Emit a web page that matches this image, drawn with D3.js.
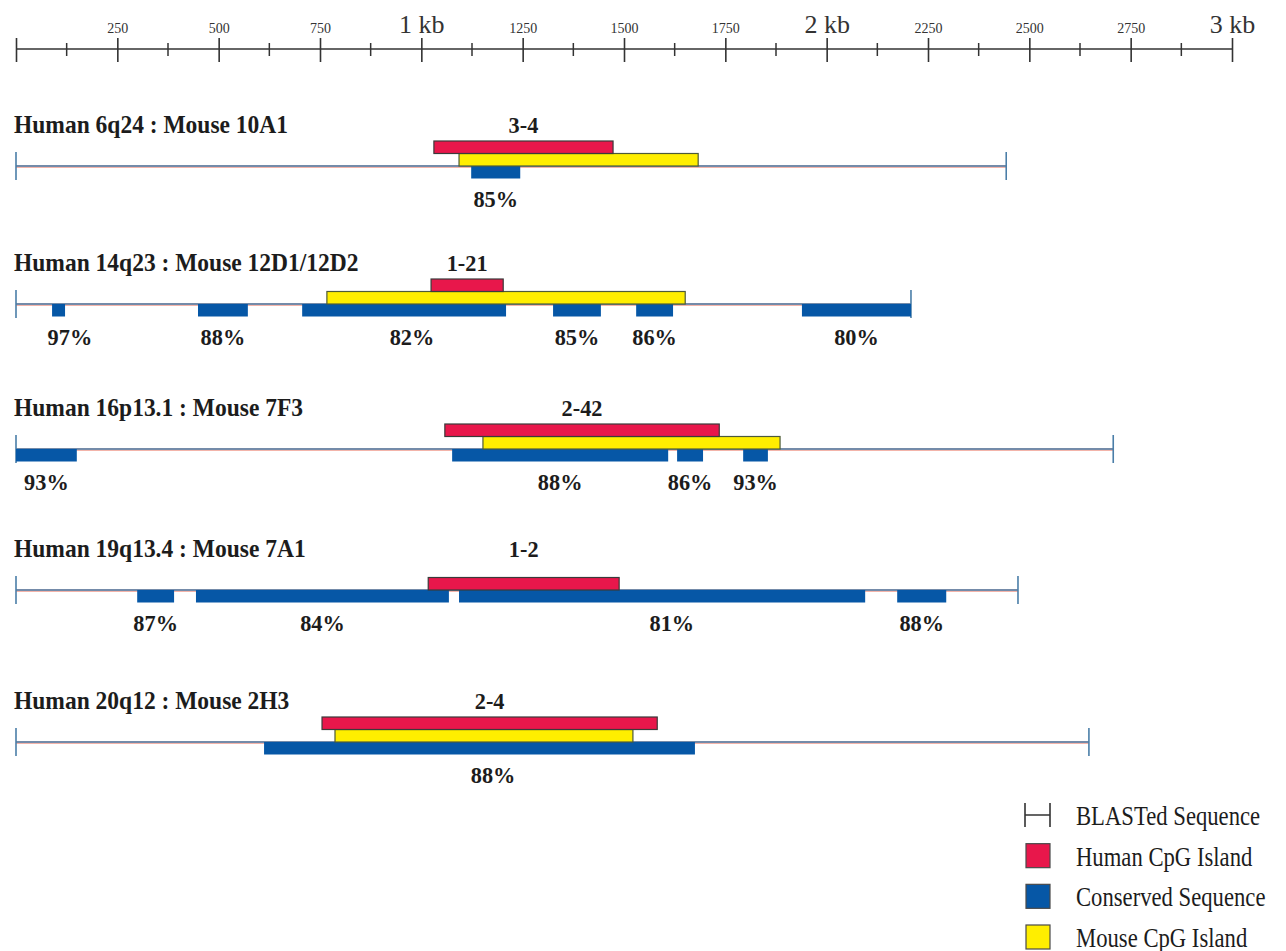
<!DOCTYPE html>
<html>
<head>
<meta charset="utf-8">
<script src="https://cdn.jsdelivr.net/npm/d3@7"></script>
<style>
  body { margin: 0; background: #fff; }
  svg { display: block; }
  .serif { font-family: "Liberation Serif", "DejaVu Serif", serif; }
</style>
</head>
<body>
<svg id="chart" width="1286" height="951"></svg>
<script>
// Scale bar ticks (bp)
const majorTicks = [0, 250, 500, 750, 1000, 1250, 1500, 1750, 2000, 2250, 2500, 2750, 3000];
const minorTicks = [125, 375, 625, 875, 1125, 1375, 1625, 1875, 2125, 2375, 2625, 2875];
const tickNames = {1000: "1 kb", 2000: "2 kb", 3000: "3 kb"};

// One entry per alignment row
const rowTitles = [
  "Human 6q24 : Mouse 10A1",
  "Human 14q23 : Mouse 12D1/12D2",
  "Human 16p13.1 : Mouse 7F3",
  "Human 19q13.4 : Mouse 7A1",
  "Human 20q12 : Mouse 2H3",
];
const clusterNames = ["3-4", "1-21", "2-42", "1-2", "2-4"];
const blastLength = [2443, 2208, 2707, 2472, 2647];
const humanCpG = [[1031, 1473], [1024, 1202], [1058, 1735], [1017, 1488], [755, 1582]];
const mouseCpG = [[1093, 1683], [767, 1651], [1152, 1885], null, [787, 1522]];
// [start, end, % identity, optional label position]
const conserved = [
  [[1123, 1244, 85]],
  [[89, 121, 97, 133], [449, 572, 88], [706, 1209, 82, 977], [1325, 1443, 85], [1530, 1621, 86], [1939, 2208, 80]],
  [[0, 150, 93], [1076, 1609, 88], [1631, 1695, 86], [1794, 1855, 93]],
  [[299, 390, 87], [444, 1068, 84], [1093, 2095, 81, 1618], [2174, 2295, 88]],
  [[612, 1675, 88, 1177]],
];

const legendItems = ["BLASTed Sequence", "Human CpG Island", "Conserved Sequence", "Mouse CpG Island"];

const RED = "#e8174b", YELLOW = "#ffee00", BLUE = "#0657a6";

const svg = d3.select("#chart");
const x = d3.scaleLinear().domain([0, 3000]).range([16, 1232]);

// squashed serif text, the source figure's type is a bit narrow
function label(g, txt, px, py, size, bold, anchor, sx) {
  return g.append("text")
    .attr("class", "serif")
    .attr("transform", `translate(${px},${py}) scale(${sx || 0.93},1)`)
    .attr("text-anchor", anchor || "start")
    .attr("font-size", size)
    .attr("font-weight", bold ? "bold" : "normal")
    .attr("fill", "#1c1c1c")
    .text(txt);
}

/**
 * Scale bar
 */
const axisY = 49;
const axisG = svg.append("g").attr("transform", `translate(0,${axisY})`);
axisG.append("line")
  .attr("x1", x(0)).attr("x2", x(3000))
  .attr("stroke", "#333").attr("stroke-width", 1.6);

const ax = d3.axisTop(x).tickValues(majorTicks).tickSize(11)
  .tickFormat((d) => (d === 0 ? "" : tickNames[d] || d));
const axG = axisG.append("g").call(ax);
axG.select(".domain").remove();
axG.selectAll(".tick line").attr("y1", 13).attr("y2", -11).attr("stroke", "#333").attr("stroke-width", 1.6);
axG.selectAll(".tick text")
  .attr("class", "serif")
  .attr("y", -16).attr("dy", 0)
  .attr("fill", "#333")
  .attr("font-size", (d) => (tickNames[d] ? 26 : 14));

axisG.selectAll("line.minor")
  .data(minorTicks)
  .enter().append("line")
  .attr("class", "minor")
  .attr("x1", (d) => x(d)).attr("x2", (d) => x(d))
  .attr("y1", -6).attr("y2", 7)
  .attr("stroke", "#333").attr("stroke-width", 1.5);

/**
 * Alignment rows
 */
// vertical place of each row's sequence line (layout only)
const rowY = [166, 304, 449, 590, 742];
const barH = 12.5;

rowTitles.forEach((title, i) => {
  const y0 = rowY[i];
  const g = svg.append("g");

  label(g, title, 14, y0 - 33, 25, true, "start", 0.94);

  // BLASTed sequence line with end ticks
  g.append("line").attr("x1", x(0)).attr("x2", x(blastLength[i]))
    .attr("y1", y0 + 0.5).attr("y2", y0 + 0.5)
    .attr("stroke", "#f3b4aa").attr("stroke-width", 3);
  g.append("line").attr("x1", x(0)).attr("x2", x(blastLength[i]))
    .attr("y1", y0).attr("y2", y0)
    .attr("stroke", "#4a7ea8").attr("stroke-width", 1.3);
  [0, blastLength[i]].forEach((d) => {
    g.append("line").attr("x1", x(d)).attr("x2", x(d))
      .attr("y1", y0 - 14).attr("y2", y0 + 14)
      .attr("stroke", "#4a7ea8").attr("stroke-width", 1.6);
  });

  // conserved blocks below the line
  g.selectAll("rect.cons")
    .data(conserved[i])
    .enter().append("rect")
    .attr("class", "cons")
    .attr("x", (d) => x(d[0]))
    .attr("width", (d) => x(d[1]) - x(d[0]))
    .attr("y", y0)
    .attr("height", barH)
    .attr("fill", BLUE);

  conserved[i].forEach((d) => {
    const at = d.length > 3 ? d[3] : (d[0] + d[1]) / 2;
    label(g, d[2] + "%", x(at), y0 + 41, 24, true, "middle");
  });

  // mouse CpG sits on the line, human CpG on top of it
  let top = y0;
  if (mouseCpG[i]) {
    const m = mouseCpG[i];
    g.append("rect")
      .attr("x", x(m[0])).attr("width", x(m[1]) - x(m[0]))
      .attr("y", top - barH).attr("height", barH)
      .attr("fill", YELLOW).attr("stroke", "#4d5a3a").attr("stroke-width", 1.2);
    top -= barH;
  }
  const h = humanCpG[i];
  g.append("rect")
    .attr("x", x(h[0])).attr("width", x(h[1]) - x(h[0]))
    .attr("y", top - barH).attr("height", barH)
    .attr("fill", RED).attr("stroke", "#3a3a3a").attr("stroke-width", 1.2);

  label(g, clusterNames[i], x((h[0] + h[1]) / 2), y0 - 33, 24, true, "middle");
});

/**
 * Legend
 */
const lg = svg.append("g").attr("transform", "translate(1025,0)");
const legendY = d3.scalePoint().domain(d3.range(legendItems.length)).range([815, 937]);
const swatch = [null, RED, BLUE, YELLOW];

legendItems.forEach((name, i) => {
  const cy = legendY(i);
  if (i === 0) {
    lg.append("path")
      .attr("d", `M0,${cy - 12}V${cy + 12}M0,${cy}H25M25,${cy - 12}V${cy + 12}`)
      .attr("fill", "none").attr("stroke", "#333").attr("stroke-width", 1.6);
  } else {
    lg.append("rect")
      .attr("x", 1).attr("y", cy - 12).attr("width", 24).attr("height", 24)
      .attr("fill", swatch[i]).attr("stroke", "#4a4a4a").attr("stroke-width", 1.2);
  }
  label(lg, name, 51, cy + 10, 27, false, "start", 0.84);
});
</script>
</body>
</html>
